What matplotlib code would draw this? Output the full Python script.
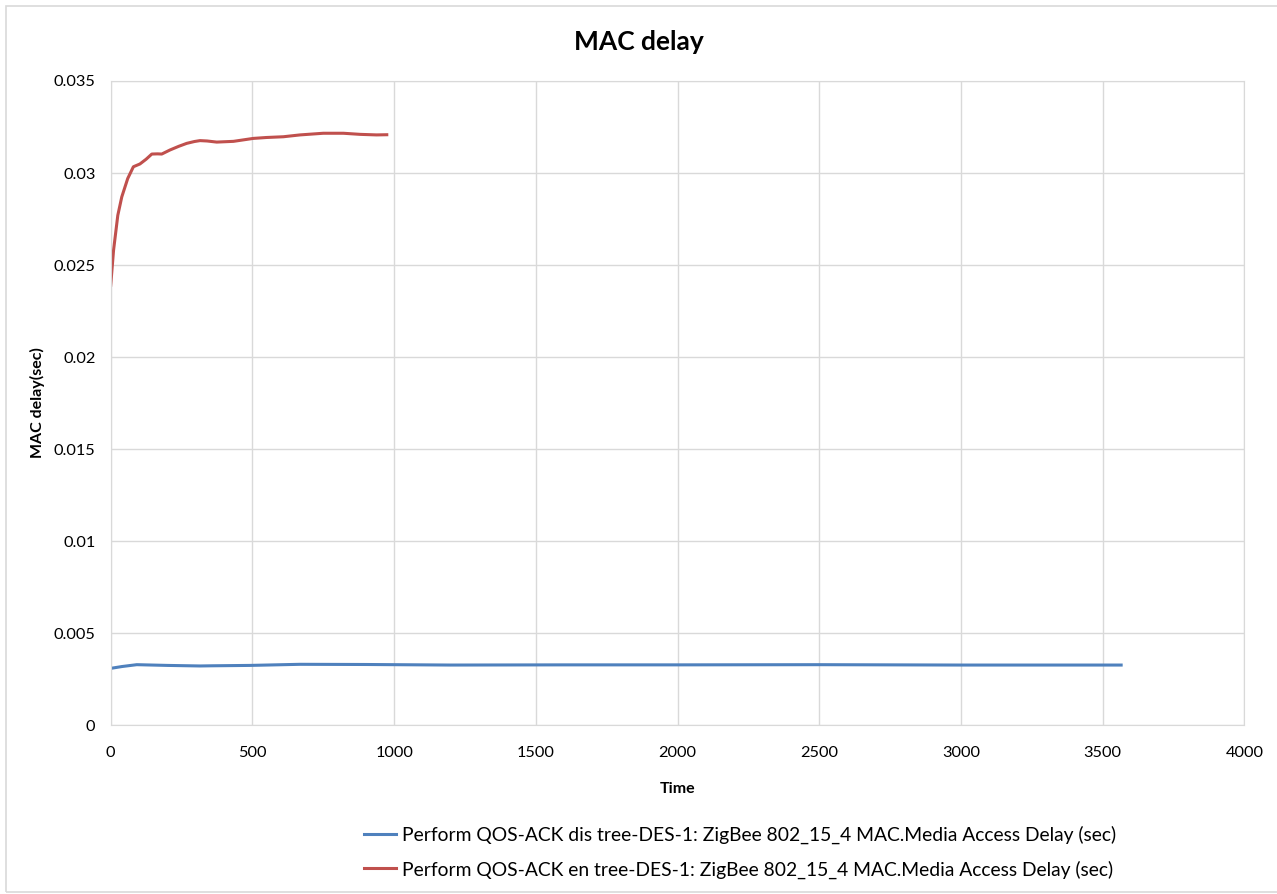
import matplotlib
matplotlib.use("Agg")
import matplotlib.pyplot as plt
from matplotlib.patches import Rectangle

plt.rcParams['font.family'] = ['Lato', 'DejaVu Sans']

# red series: "en" tree
en_time = [0, 10, 25, 39, 60, 80, 103, 125, 145, 165, 180, 209, 240, 268, 295, 315,
           340, 374, 433, 503, 550, 609, 668, 750, 821, 880, 938, 974]
en_delay = [0.0239, 0.0258, 0.0277, 0.0287, 0.0297, 0.03034, 0.03049, 0.03075, 0.03103,
            0.03104, 0.03103, 0.03125, 0.03145, 0.03161, 0.03171, 0.03176, 0.03174,
            0.03168, 0.03172, 0.03188, 0.03193, 0.03197, 0.03207, 0.03216, 0.03216,
            0.03210, 0.03207, 0.03208]

# blue series: "dis" tree
dis_time = [0, 40, 92, 200, 315, 360, 491, 668, 900, 1200, 1600, 2000, 2500, 3000, 3300, 3565]
dis_delay = [0.00308, 0.00318, 0.00328, 0.00324, 0.00321, 0.00322, 0.00324, 0.00330,
             0.00329, 0.00326, 0.00327, 0.00327, 0.00328, 0.00326, 0.00326, 0.00326]

dis_label = 'Perform QOS-ACK dis tree-DES-1: ZigBee 802_15_4 MAC.Media Access Delay (sec)'
en_label = 'Perform QOS-ACK en tree-DES-1: ZigBee 802_15_4 MAC.Media Access Delay (sec)'

fig = plt.figure(figsize=(12.77, 8.94), dpi=100)
ax = fig.add_axes([0.0867, 0.189, 0.8878, 0.7204])

ax.plot(dis_time, dis_delay, color='#4f81bd', lw=2.2, label=dis_label)
ax.plot(en_time, en_delay, color='#c0504d', lw=2.2, label=en_label)

ax.set_xlim(0, 4000)
ax.set_ylim(0, 0.035)
ax.set_xticks(range(0, 4001, 500))
ax.set_yticks([0, 0.005, 0.01, 0.015, 0.02, 0.025, 0.03, 0.035])
ax.set_yticklabels(['0', '0.005', '0.01', '0.015', '0.02', '0.025', '0.03', '0.035'])
ax.grid(True, color='#d9d9d9', lw=1)
ax.set_axisbelow(True)
for s in ax.spines.values():
    s.set_color('#d9d9d9')
ax.tick_params(length=0, labelsize=11.8)
ax.tick_params(axis='x', pad=15)
ax.tick_params(axis='y', pad=11)

ax.set_xlabel('Time', fontsize=11.5, fontweight='bold', labelpad=16)
ax.set_ylabel('MAC delay(sec)', fontsize=11.5, fontweight='bold', labelpad=6)
fig.text(0.5, 0.953, 'MAC delay', ha='center', va='center', fontsize=19, fontweight='bold')

fig.legend(loc='center', bbox_to_anchor=(740 / 1277, 0.047), frameon=False,
           fontsize=13.9, handlelength=1.65, handletextpad=0.3, labelspacing=0.85)

fig.patches.append(Rectangle((6 / 1277, 2 / 894), 1.0, 886 / 894, transform=fig.transFigure,
                             fill=False, edgecolor='#d9d9d9', lw=1.2))

fig.savefig('out.png', dpi=100)
